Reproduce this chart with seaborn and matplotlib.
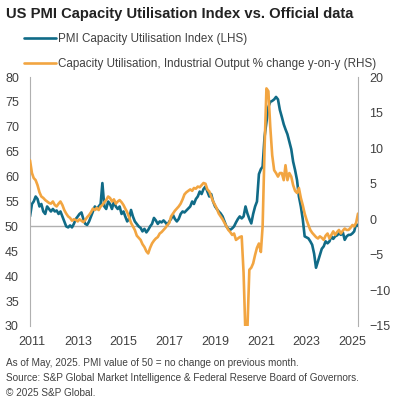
import numpy as np
import pandas as pd
import seaborn as sns
import matplotlib.pyplot as plt
import matplotlib.dates as mdates

sns.set_style("white")
plt.rcParams['font.family'] = ['Liberation Sans', 'DejaVu Sans']

# monthly data, Jan 2011 - May 2025
pmi = [
    52.0, 54.5, 55.0, 56.0, 55.5, 54.0, 54.5, 53.0, 52.5, 54.0, 53.5, 53.0,  # 2011
    53.5, 53.0, 53.2, 52.5, 53.0, 52.0, 51.0, 50.0, 49.8, 50.2, 49.8, 50.5,  # 2012
    51.5, 52.0, 52.5, 52.8, 51.5, 50.5, 50.3, 51.0, 52.0, 53.0, 54.0, 53.5,  # 2013
    54.0, 54.5, 58.7, 54.0, 53.5, 55.0, 54.5, 53.5, 55.0, 54.0, 53.5, 54.0,  # 2014
    52.5, 53.0, 52.0, 51.0, 51.5, 53.3, 52.0, 51.0, 50.5, 50.0, 49.7, 49.0,  # 2015
    49.5, 48.8, 49.3, 50.0, 50.5, 51.7, 51.2, 50.5, 51.0, 50.8, 51.2, 50.8,  # 2016
    50.3, 51.0, 51.5, 52.3, 51.5, 51.0, 51.5, 52.5, 53.0, 52.8, 53.2, 53.6,  # 2017
    54.0, 55.0, 54.5, 55.5, 56.0, 57.0, 56.5, 57.5, 58.0, 57.0, 56.0, 56.5,  # 2018
    55.0, 54.0, 53.5, 53.0, 52.6, 52.0, 51.0, 50.0, 49.5, 49.3, 49.6, 50.0,  # 2019
    50.8, 51.5, 52.0, 51.6, 52.0, 54.0, 52.6, 51.5, 50.6, 52.5, 54.0, 55.0,  # 2020
    60.5, 61.5, 62.0, 68.0, 71.0, 74.0, 75.0, 75.2, 75.5, 76.0, 75.5, 73.4,  # 2021
    72.0, 70.5, 69.5, 68.5, 67.0, 65.5, 63.0, 61.3, 59.3, 56.0, 54.0, 51.5,  # 2022
    48.0, 47.8, 47.6, 47.0, 46.3, 44.5, 41.7, 43.0, 44.3, 45.5, 46.0, 47.0,  # 2023
    46.6, 47.0, 48.0, 47.5, 48.0, 48.2, 48.6, 48.3, 48.8, 47.3, 48.0, 48.3,  # 2024
    48.3, 48.6, 49.0, 50.5, 50.1,                                            # 2025
]

cap_util = [
    8.3, 6.5, 5.8, 5.5, 4.8, 3.8, 3.2, 3.0, 2.7, 2.5, 2.3, 2.2,              # 2011
    2.5, 2.0, 1.8, 2.2, 2.5, 2.0, 1.3, 0.8, 0.4, 0.2, -0.2, 0.0,             # 2012
    -0.1, -0.3, 0.0, -0.2, -0.4, -0.1, 0.3, 0.6, 1.0, 1.5, 1.3, 1.6,         # 2013
    1.3, 1.8, 2.0, 2.4, 2.7, 3.2, 3.0, 2.5, 2.8, 2.2, 2.5, 2.7,              # 2014
    2.4, 2.0, 1.5, 1.0, 0.3, -0.5, -1.0, -1.5, -2.3, -2.6, -2.9, -3.5,       # 2015
    -3.9, -4.5, -4.8, -4.0, -3.4, -3.0, -2.7, -2.5, -2.0, -1.8, -1.5, -1.2,  # 2016
    -0.8, -0.5, 0.4, 0.8, 1.2, 1.5, 1.8, 2.2, 2.8, 3.5, 3.8, 4.0,            # 2017
    4.2, 4.0, 4.4, 4.3, 4.6, 4.5, 4.8, 5.1, 5.0, 4.2, 3.9, 3.2,              # 2018
    2.5, 2.0, 1.5, 0.8, 0.4, 0.0, -0.5, -1.0, -1.5, -1.8, -2.2, -2.0,        # 2019
    -2.9, -2.7, -2.5, -2.4, -7.5, -16.5, -15.5, -7.1, -6.8, -6.2, -5.0, -4.0,  # 2020
    -3.4, -4.6, -1.0, 10.0, 18.4, 18.0, 13.0, 9.0, 6.9, 6.5, 6.0, 6.5,       # 2021
    6.5, 5.5, 7.6, 5.5, 6.5, 6.0, 4.8, 4.0, 3.7, 4.4, 3.0, 2.0,              # 2022
    0.8, -0.1, -0.8, -1.5, -1.9, -2.2, -2.5, -2.7, -2.4, -2.6, -2.9, -2.3,   # 2023
    -2.0, -2.7, -2.2, -1.7, -2.2, -1.8, -1.5, -2.0, -1.6, -1.3, -1.5, -1.5,  # 2024
    -1.2, -0.8, -1.0, -0.5, 0.8,                                             # 2025
]

tick_years = [2011, 2013, 2015, 2017, 2019, 2021, 2023, 2025]

dates = pd.date_range("2011-01-01", periods=len(pmi), freq="MS")
df = pd.DataFrame({"date": dates, "pmi": pmi, "cap": cap_util})

teal = "#106b87"
orange = "#f2a541"
grey = "#b0b0b0"
txt = "#404040"

fig = plt.figure(figsize=(3.96, 4.08), dpi=100)
ax = fig.add_axes([30 / 396, 82 / 408, 328 / 396, 249 / 408])
ax2 = ax.twinx()

sns.lineplot(data=df, x="date", y="pmi", ax=ax, color=teal, linewidth=1.9,
             label="PMI Capacity Utilisation Index (LHS)", legend=False)
sns.lineplot(data=df, x="date", y="cap", ax=ax2, color=orange, linewidth=1.9,
             label="Capacity Utilisation, Industrial Output % change y-on-y (RHS)",
             legend=False)

ax.axhline(50, color=grey, linewidth=1, zorder=0)

ax.set_ylim(30, 80)
ax.set_yticks(range(30, 81, 5))
ax2.set_ylim(-15, 20)
ax2.set_yticks(range(-15, 21, 5))
ax.set_xlim(dates[0], dates[-1])
ax.set_xticks([pd.Timestamp(f"{y}-02-01") for y in tick_years])
ax.xaxis.set_major_formatter(mdates.DateFormatter("%Y"))

for a in (ax, ax2):
    a.set_xlabel("")
    a.set_ylabel("")
    a.tick_params(length=0, labelsize=9, colors=txt)
    for s in ("top", "bottom"):
        a.spines[s].set_visible(False)
    a.spines["left"].set_color(grey)
    a.spines["right"].set_color(grey)
ax.spines["right"].set_visible(False)
ax2.spines["left"].set_visible(False)
ax.tick_params(axis="y", pad=8)
ax2.tick_params(axis="y", pad=8)
ax.tick_params(axis="x", pad=7)

# legend
h1, l1 = ax.get_legend_handles_labels()
h2, l2 = ax2.get_legend_handles_labels()
fig.legend(h1 + h2, l1 + l2, loc="upper left", bbox_to_anchor=(19 / 396, 1 - 28 / 408),
           frameon=False, fontsize=8.4, handlelength=2.8, handletextpad=0.15,
           labelspacing=1.15, labelcolor=txt, borderaxespad=0)

fig.text(6 / 396, 1 - 14 / 408, "US PMI Capacity Utilisation Index vs. Official data",
         fontsize=10.6, fontweight="bold", color="#222222", va="center", ha="left")

notes = ("As of May, 2025. PMI value of 50 = no change on previous month.\n"
         "Source: S&P Global Market Intelligence & Federal Reserve Board of Governors.\n"
         "\u00a9 2025 S&P Global.")
fig.text(6 / 396, 1 - 358 / 408, notes, fontsize=7.2, color=txt, va="top", ha="left",
         linespacing=1.6)

fig.savefig("out.png", dpi=100)
